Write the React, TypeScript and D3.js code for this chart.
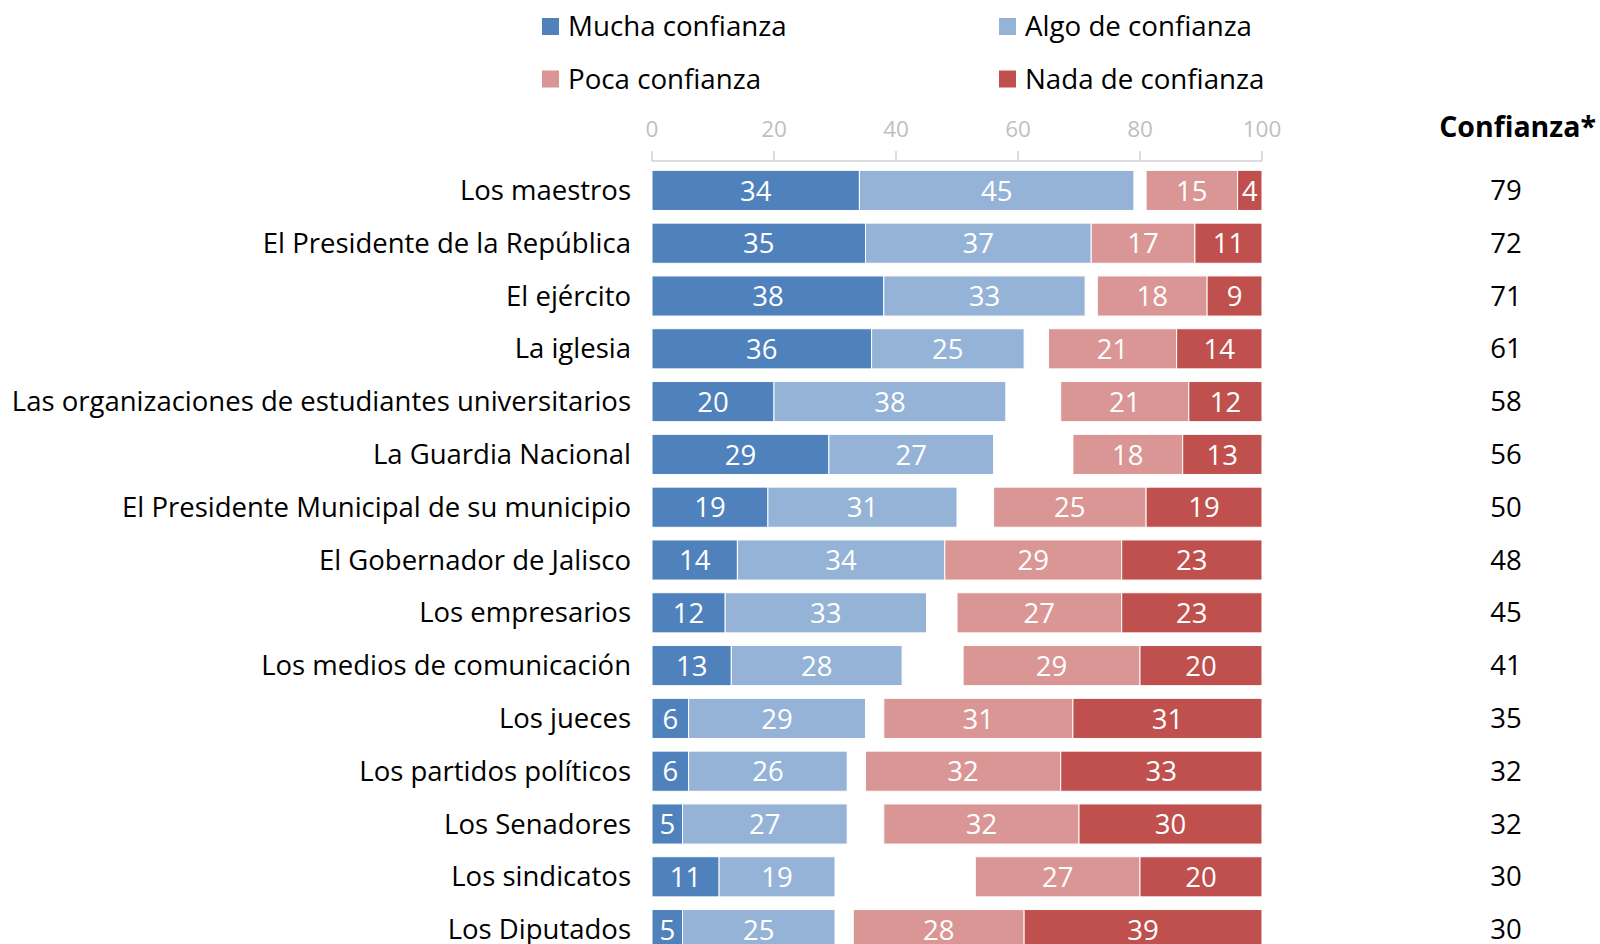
import React from "react";
import * as d3 from "d3";

const categories = [
  "Los maestros",
  "El Presidente de la República",
  "El ejército",
  "La iglesia",
  "Las organizaciones de estudiantes universitarios",
  "La Guardia Nacional",
  "El Presidente Municipal de su municipio",
  "El Gobernador de Jalisco",
  "Los empresarios",
  "Los medios de comunicación",
  "Los jueces",
  "Los partidos políticos",
  "Los Senadores",
  "Los sindicatos",
  "Los Diputados",
];
const mucha = [34, 35, 38, 36, 20, 29, 19, 14, 12, 13, 6, 6, 5, 11, 5];
const algo = [45, 37, 33, 25, 38, 27, 31, 34, 33, 28, 29, 26, 27, 19, 25];
const poca = [15, 17, 18, 21, 21, 18, 25, 29, 27, 29, 31, 32, 32, 27, 28];
const nada = [4, 11, 9, 14, 12, 13, 19, 23, 23, 20, 31, 33, 30, 20, 39];
const confianza = [79, 72, 71, 61, 58, 56, 50, 48, 45, 41, 35, 32, 32, 30, 30];
const ticks = [0, 20, 40, 60, 80, 100];
const seriesNames = ["Mucha confianza", "Algo de confianza", "Poca confianza", "Nada de confianza"];
const colors = ["#4f81bd", "#95b3d7", "#da9694", "#c0504d"];

const FONT = "'Open Sans', 'Noto Sans', sans-serif";

export default function App() {
  const x = d3.scaleLinear().domain([0, 100]).range([652, 1262]);
  const y = d3
    .scaleBand()
    .domain(categories)
    .range([164, 164 + 52.8 * 15])
    .paddingInner(0.24)
    .paddingOuter(0.12);
  const bh = y.bandwidth();

  return (
    <div style={{ position: "absolute", left: 0, top: 0 }}>
      <svg width={1600} height={944} style={{ display: "block" }} fontFamily={FONT}>
        {/* legend */}
        {seriesNames.map((n, i) => {
          const lx = i % 2 === 0 ? 542 : 999;
          const ly = i < 2 ? 26.5 : 79;
          return (
            <g key={n}>
              <rect x={lx} y={ly - 8.5} width={17} height={17} fill={colors[i]} />
              <text x={lx + 26} y={ly} dy="0.35em" fontSize={27.7} fill="#000">
                {n}
              </text>
            </g>
          );
        })}
        {/* axis */}
        <line x1={x(0)} x2={x(100)} y1={161} y2={161} stroke="#d0d0d0" strokeWidth={1.5} />
        {ticks.map((t) => (
          <g key={t}>
            <line x1={x(t)} x2={x(t)} y1={151} y2={161} stroke="#d0d0d0" strokeWidth={1.5} />
            <text x={x(t)} y={129} dy="0.35em" textAnchor="middle" fontSize={22.5} fill="#bfbfbf">
              {t}
            </text>
          </g>
        ))}
        <text x={1596} y={127} dy="0.35em" textAnchor="end" fontSize={28.5} fontWeight="bold" fill="#000">
          Confianza*
        </text>
        {categories.map((c, i) => {
          const y0 = y(c)!;
          const cy = y0 + bh / 2;
          const segs = [
            { v: mucha[i], s: 0, col: colors[0] },
            { v: algo[i], s: mucha[i], col: colors[1] },
            { v: poca[i], s: 100 - nada[i] - poca[i], col: colors[2] },
            { v: nada[i], s: 100 - nada[i], col: colors[3] },
          ];
          return (
            <g key={c}>
              <text x={631} y={cy} dy="0.35em" textAnchor="end" fontSize={27.5} fill="#000">
                {c}
              </text>
              {segs.map((sg, k) => (
                <g key={k}>
                  <rect
                    x={x(sg.s)}
                    y={y0}
                    width={x(sg.s + sg.v) - x(sg.s)}
                    height={bh}
                    fill={sg.col}
                    stroke="#fff"
                    strokeWidth={1}
                  />
                  <text
                    x={(x(sg.s) + x(sg.s + sg.v)) / 2}
                    y={cy}
                    dy="0.37em"
                    textAnchor="middle"
                    fontSize={27.5}
                    fill="#fff"
                  >
                    {sg.v}
                  </text>
                </g>
              ))}
              <text x={1506} y={cy} dy="0.35em" textAnchor="middle" fontSize={27.5} fill="#000">
                {confianza[i]}
              </text>
            </g>
          );
        })}
      </svg>
    </div>
  );
}
